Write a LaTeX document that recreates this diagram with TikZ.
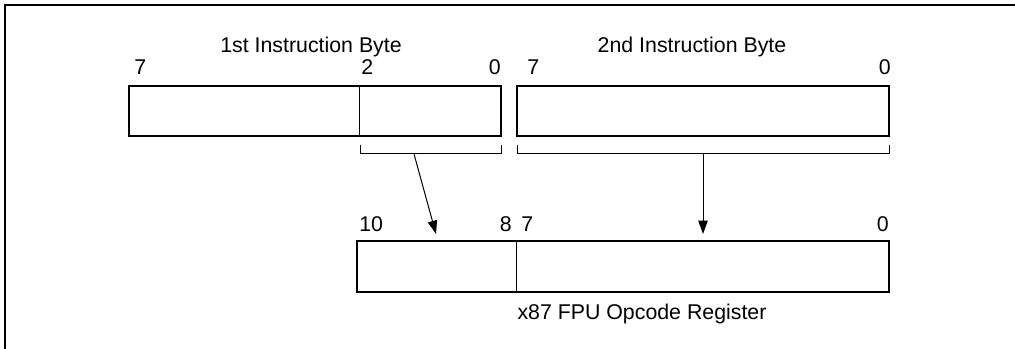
\documentclass[tikz,border=0pt]{standalone}
\usepackage{fontspec}
\setmainfont{Liberation Sans}
\usetikzlibrary{arrows.meta}
\begin{document}
\begin{tikzpicture}[x=0.75pt,y=-0.75pt,
  regbox/.style={draw,line width=1.3pt,rectangle,inner sep=0pt,outer sep=0pt,anchor=north west,minimum height=37.5pt},
  divline/.style={line width=0.7pt},
  bracketline/.style={line width=0.75pt},
  arr/.style={line width=0.75pt,-{Triangle[length=10pt,width=7pt]}},
  lbl/.style={inner sep=0pt,font=\fontsize{16}{19}\selectfont},
  frameline/.style={line width=1.6pt}]
\useasboundingbox (0,0) rectangle (1015,349);
% frame (top and left visible)
\draw[frameline] (1015,5) -- (5,5) -- (5,349);

% titles
\node[lbl,anchor=base] (t1) at (311,53) {1st Instruction Byte};
\node[lbl,anchor=base] (t2) at (692,53) {2nd Instruction Byte};

% bit numbers, top
\node[lbl,anchor=base west] (a7) at (134,75) {7};
\node[lbl,anchor=base west] (a2) at (361,75) {2};
\node[lbl,anchor=base east] (a0) at (501,75) {0};
\node[lbl,anchor=base west] (b7) at (527,75) {7};
\node[lbl,anchor=base east] (b0) at (891,75) {0};

% byte boxes
\node[regbox,minimum width=279pt] (byte1) at (129,86) {};
\draw[divline] (359,86) -- (359,136);
\node[regbox,minimum width=279pt] (byte2) at (517,86) {};

% brackets
\coordinate (br1a) at (360,145);
\coordinate (br1b) at (501,145);
\coordinate (br2a) at (517,145);
\coordinate (br2b) at (889,145);
\draw[bracketline] (br1a) -- (360,154) -- (501,154) -- (br1b);
\draw[bracketline] (br2a) -- (517,154) -- (889,154) -- (br2b);

% arrows
\coordinate (s1) at (414,154);
\coordinate (e1) at (436,234);
\coordinate (s2) at (703,154);
\coordinate (e2) at (703,234);
\draw[arr] (s1) -- (e1);
\draw[arr] (s2) -- (e2);

% bottom bit numbers
\node[lbl,anchor=base west] (c10) at (359,232) {10};
\node[lbl,anchor=base east] (c8) at (512,232) {8};
\node[lbl,anchor=base west] (c7) at (521,232) {7};
\node[lbl,anchor=base east] (c0) at (889,232) {0};

% opcode register
\node[regbox,minimum width=399pt,minimum height=38pt] (opreg) at (357,241) {};
\draw[divline] (516,241) -- (516,292);
\node[lbl,anchor=base] (oplbl) at (642,320) {x87 FPU Opcode Register};
\end{tikzpicture}
\end{document}
